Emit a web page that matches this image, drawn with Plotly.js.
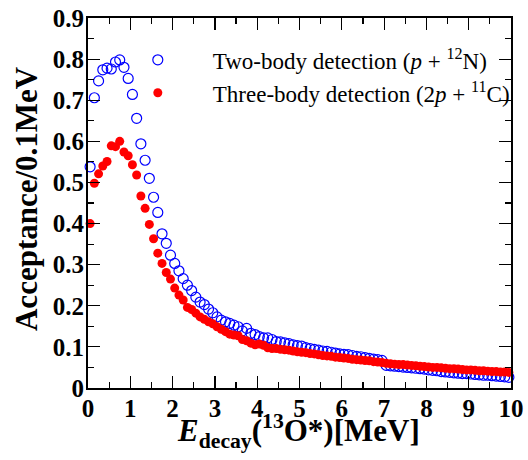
<!DOCTYPE html>
<html><head><meta charset="utf-8">
<script src="https://cdn.plot.ly/plotly-3.0.1.min.js"></script>
<style>html,body{margin:0;padding:0;background:#fff;overflow:hidden}</style>
</head><body><div id="chart" style="width:528px;height:460px"></div>
<script>
const energy = [0.05,0.15,0.25,0.35,0.45,0.55,0.65,0.75,0.85,0.95,
1.05,1.15,1.25,1.35,1.45,1.55,1.65,1.75,1.85,1.95,
2.05,2.15,2.25,2.35,2.45,2.55,2.65,2.75,2.85,2.95,
3.05,3.15,3.25,3.35,3.45,3.55,3.65,3.75,3.85,3.95,
4.05,4.15,4.25,4.35,4.45,4.55,4.65,4.75,4.85,4.95,
5.05,5.15,5.25,5.35,5.45,5.55,5.65,5.75,5.85,5.95,
6.05,6.15,6.25,6.35,6.45,6.55,6.65,6.75,6.85,6.95,
7.05,7.15,7.25,7.35,7.45,7.55,7.65,7.75,7.85,7.95,
8.05,8.15,8.25,8.35,8.45,8.55,8.65,8.75,8.85,8.95,
9.05,9.15,9.25,9.35,9.45,9.55,9.65,9.75,9.85,9.95];

const twoBody = [0.538,0.706,0.747,0.774,0.778,0.776,0.793,0.798,0.780,0.753,
0.714,0.656,0.594,0.554,0.510,0.464,0.427,0.375,0.352,0.323,
0.303,0.285,0.266,0.250,0.237,0.221,0.209,0.203,0.192,0.183,
0.173,0.165,0.161,0.157,0.153,0.149,0.139,0.145,0.133,0.130,
0.125,0.122,0.122,0.118,0.113,0.112,0.110,0.108,0.105,0.103,
0.102,0.098,0.096,0.094,0.092,0.090,0.089,0.087,0.085,0.083,
0.082,0.081,0.079,0.077,0.076,0.074,0.072,0.070,0.069,0.067,
0.055,0.054,0.053,0.052,0.051,0.050,0.049,0.048,0.047,0.046,
0.044,0.043,0.042,0.040,0.039,0.038,0.037,0.036,0.035,0.035,
0.034,0.033,0.032,0.031,0.031,0.030,0.029,0.028,0.027,0.026];

const threeBody = [0.400,0.498,0.521,0.540,0.551,0.589,0.587,0.600,0.574,0.565,
0.543,0.518,0.467,0.437,0.398,0.363,0.328,0.303,0.281,0.265,
0.243,0.226,0.214,0.196,0.191,0.182,0.173,0.167,0.161,0.156,
0.149,0.143,0.137,0.131,0.129,0.127,0.118,0.115,0.109,0.105,
0.107,0.104,0.098,0.096,0.096,0.094,0.093,0.092,0.090,0.088,
0.087,0.086,0.084,0.083,0.081,0.079,0.078,0.077,0.075,0.074,
0.073,0.072,0.070,0.069,0.068,0.067,0.066,0.064,0.063,0.062,
0.060,0.059,0.058,0.057,0.057,0.056,0.055,0.054,0.053,0.052,
0.051,0.050,0.050,0.049,0.048,0.047,0.047,0.046,0.045,0.044,
0.044,0.043,0.042,0.042,0.041,0.040,0.040,0.039,0.039,0.038];

const xTitle = '<i>E</i><sub>decay</sub>(<sup>13</sup>O*)[MeV]';
const yTitle = 'Acceptance/0.1MeV';

const serif = 'Liberation Serif, Times New Roman, serif';
const traces = [
  {x: energy, y: twoBody, type: 'scatter', mode: 'markers',
   name: 'Two-body detection (<i>p</i> + <sup>12</sup>N)',
   marker: {symbol: 'circle-open', size: 10, color: '#0000ff', line: {width: 1.2, color: '#0000ff'}},
   cliponaxis: false},
  {x: energy, y: threeBody, type: 'scatter', mode: 'markers',
   name: 'Three-body detection (2<i>p</i> + <sup>11</sup>C)',
   marker: {symbol: 'circle', size: 9, color: '#ff0000'},
   cliponaxis: false}
];
const axisCommon = {
  showgrid: false, zeroline: false, showline: true, linecolor: '#000', linewidth: 2,
  mirror: 'ticks', ticks: 'inside', tickcolor: '#000', tickwidth: 1.2, ticklen: 12,
  tickfont: {family: serif, size: 25, color: '#000', weight: 'bold'}
};
const layout = {
  width: 528, height: 460,
  margin: {l: 88, r: 17, t: 18, b: 72},
  paper_bgcolor: '#fff', plot_bgcolor: '#fff',
  showlegend: true,
  legend: {x: 0.035, y: 0.945, xanchor: 'left', yanchor: 'top', bgcolor: 'rgba(0,0,0,0)',
           font: {family: serif, size: 23, color: '#000'}, itemwidth: 100, tracegroupgap: 0},
  xaxis: Object.assign({}, axisCommon, {range: [0, 10], dtick: 1, tick0: 0, ticklabelstandoff: -3,
    minor: {dtick: 0.5, ticklen: 6, ticks: 'inside', tickcolor: '#000', tickwidth: 1.2}}),
  yaxis: Object.assign({}, axisCommon, {range: [0, 0.9], dtick: 0.1, tick0: 0, ticklabelstandoff: -3,
    minor: {dtick: 0.05, ticklen: 6, ticks: 'inside', tickcolor: '#000', tickwidth: 1.2}}),
  annotations: [
    {text: xTitle, xref: 'paper', yref: 'paper', x: 0.4976, y: -0.052, xanchor: 'center', yanchor: 'top',
     showarrow: false, font: {family: serif, size: 31, color: '#000', weight: 'bold'}},
    {text: yTitle, xref: 'paper', yref: 'paper', x: -0.144, y: 0.511, xanchor: 'center', yanchor: 'middle',
     textangle: -90, showarrow: false, font: {family: serif, size: 31, color: '#000', weight: 'bold'}}
  ]
};
Plotly.newPlot('chart', traces, layout, {displayModeBar: false, staticPlot: true});
</script></body></html>
